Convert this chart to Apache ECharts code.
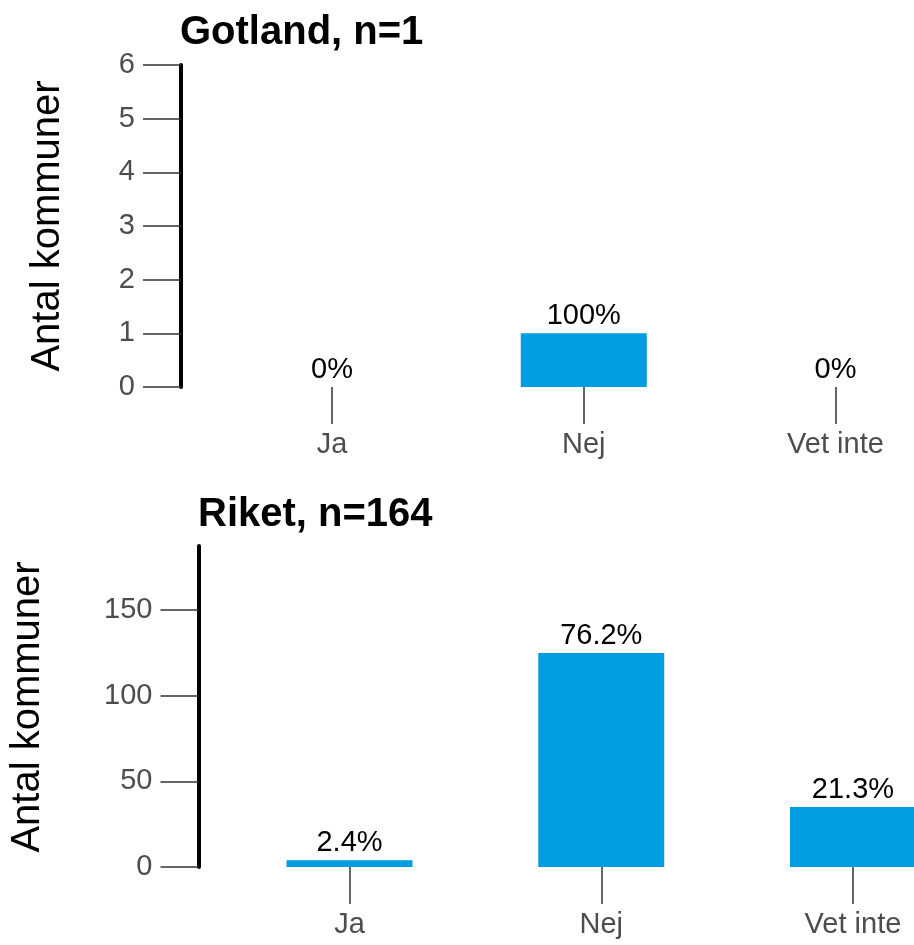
<!DOCTYPE html>
<html>
<head>
<meta charset="utf-8">
<script src="https://cdn.jsdelivr.net/npm/echarts@6/dist/echarts.min.js"></script>
<style>
html,body{margin:0;padding:0;background:#fff;overflow:hidden;width:914px;height:945px;}
#chart{width:1010px;height:945px;}
</style>
</head>
<body>
<div id="chart"></div>
<script>
// ---- data ----
var categories = ['Ja', 'Nej', 'Vet inte'];
var titleTop = 'Gotland, n=1';
var titleBottom = 'Riket, n=164';
var valuesTop = [0, 1, 0];
var valuesBottom = [4, 125, 35];
var pctTop = ['0%', '100%', '0%'];
var pctBottom = ['2.4%', '76.2%', '21.3%'];
var yTicksTop = [0, 1, 2, 3, 4, 5, 6];
var yTicksBottom = [0, 50, 100, 150];
var yMaxTop = 6;
var yMaxBottom = 187.5;
var yAxisTitle = 'Antal kommuner';

var FONT = "'Liberation Sans', Arial, sans-serif";
var BAR = '#009ee0';
var catPos = categories.map(function (c, i) { return i + 1; });

function seriesData(vals) {
  return vals.map(function (v, i) { return [catPos[i], v]; });
}

function xAxis(gi) {
  return {
    type: 'value', gridIndex: gi, min: 0.4, max: 3.6,
    splitLine: { show: false },
    axisLine: { show: false },
    axisTick: { show: true, customValues: catPos, length: 37, lineStyle: { color: '#333', width: 1.5 } },
    axisLabel: {
      show: true, customValues: catPos, margin: 43,
      fontFamily: FONT, fontSize: 29, color: '#4d4d4d',
      formatter: function (v) { return categories[Math.round(v) - 1] || ''; }
    }
  };
}
function yAxis(gi, max, ticks) {
  return {
    type: 'value', gridIndex: gi, min: 0, max: max,
    splitLine: { show: false },
    axisLine: { show: true, onZero: false, lineStyle: { color: '#000', width: 4 } },
    axisTick: { show: true, customValues: ticks, length: 38, lineStyle: { color: '#333', width: 1.5 } },
    axisLabel: { show: true, customValues: ticks, margin: 46, fontFamily: FONT, fontSize: 29, color: '#4d4d4d' }
  };
}
function barSeries(gi, vals, pcts) {
  return {
    type: 'bar', xAxisIndex: gi, yAxisIndex: gi,
    data: seriesData(vals),
    barWidth: 126,
    itemStyle: { color: BAR },
    label: {
      show: true, position: 'top', distance: 3,
      fontFamily: FONT, fontSize: 29, color: '#000',
      formatter: function (p) { return pcts[p.dataIndex]; }
    },
    emphasis: { disabled: true },
    animation: false
  };
}

var chart = echarts.init(document.getElementById('chart'), null, { renderer: 'canvas' });
chart.setOption({
  animation: false,
  backgroundColor: '#fff',
  title: [
    { text: titleTop, left: 180, top: 13, padding: 0, textStyle: { fontFamily: FONT, fontSize: 40, fontWeight: 'bold', color: '#000' } },
    { text: titleBottom, left: 198, top: 495, padding: 0, textStyle: { fontFamily: FONT, fontSize: 40, fontWeight: 'bold', color: '#000' } }
  ],
  grid: [
    { left: 181, top: 65, width: 805.5, height: 322 },
    { left: 198.5, top: 546, width: 805.5, height: 321 }
  ],
  xAxis: [xAxis(0), xAxis(1)],
  yAxis: [yAxis(0, yMaxTop, yTicksTop), yAxis(1, yMaxBottom, yTicksBottom)],
  series: [barSeries(0, valuesTop, pctTop), barSeries(1, valuesBottom, pctBottom)],
  graphic: [
    { type: 'text', x: 47.5, y: 226, rotation: Math.PI / 2,
      style: { text: yAxisTitle, font: '40px ' + FONT, fill: '#000', textAlign: 'center', textVerticalAlign: 'middle' } },
    { type: 'text', x: 27.5, y: 707, rotation: Math.PI / 2,
      style: { text: yAxisTitle, font: '40px ' + FONT, fill: '#000', textAlign: 'center', textVerticalAlign: 'middle' } }
  ]
});
</script>
</body>
</html>
